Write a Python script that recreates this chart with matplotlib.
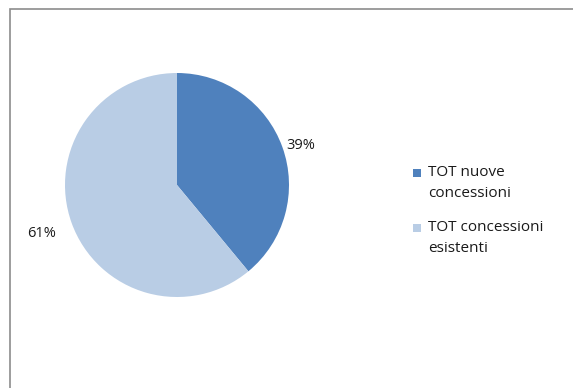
import numpy as np
import matplotlib.pyplot as plt
from matplotlib.patches import Rectangle

labels = ['TOT nuove\nconcessioni', 'TOT concessioni\nesistenti']
values = [39, 61]
colors = ['#4F81BD', '#B9CDE5']

W, H = 573, 388
fig = plt.figure(figsize=(W / 100, H / 100), dpi=100)
plt.rcParams['font.family'] = ['Open Sans', 'DejaVu Sans']

# chart area border
fig.patches.append(Rectangle((9.5 / W, -0.05), 1.1, 1 - 9 / H + 0.05, transform=fig.transFigure,
                             fill=False, edgecolor='#8c8c8c', linewidth=1.2))

cx, cy, r = 177, 185, 112
ax = fig.add_axes([(cx - r) / W, 1 - (cy + r) / H, 2 * r / W, 2 * r / H])
wedges, texts, autotexts = ax.pie(values, colors=colors, startangle=90, counterclock=False,
                                  autopct='%1.0f%%', pctdistance=1.17,
                                  textprops={'fontsize': 10.5, 'color': '#1a1a1a'})
ax.set_xlim(-1, 1)
ax.set_ylim(-1, 1)

# nudge labels to where they sit in the original
x, y = autotexts[0].get_position()
autotexts[0].set_position((x, y - 0.04))
x, y = autotexts[1].get_position()
autotexts[1].set_position((x * 1.1, y * 1.1))

# legend, marker lined up with the first text line
for i, (lab, col) in enumerate(zip(labels, colors)):
    ytop = 173 + i * 55
    fig.patches.append(Rectangle((413 / W, 1 - (ytop + 4) / H), 8 / W, 8 / H,
                                 transform=fig.transFigure, facecolor=col, edgecolor='none'))
    fig.text(428 / W, 1 - (ytop - 8) / H, lab, ha='left', va='top', fontsize=11,
             linespacing=1.5, color='#1a1a1a')

fig.savefig('out.png', dpi=100)
